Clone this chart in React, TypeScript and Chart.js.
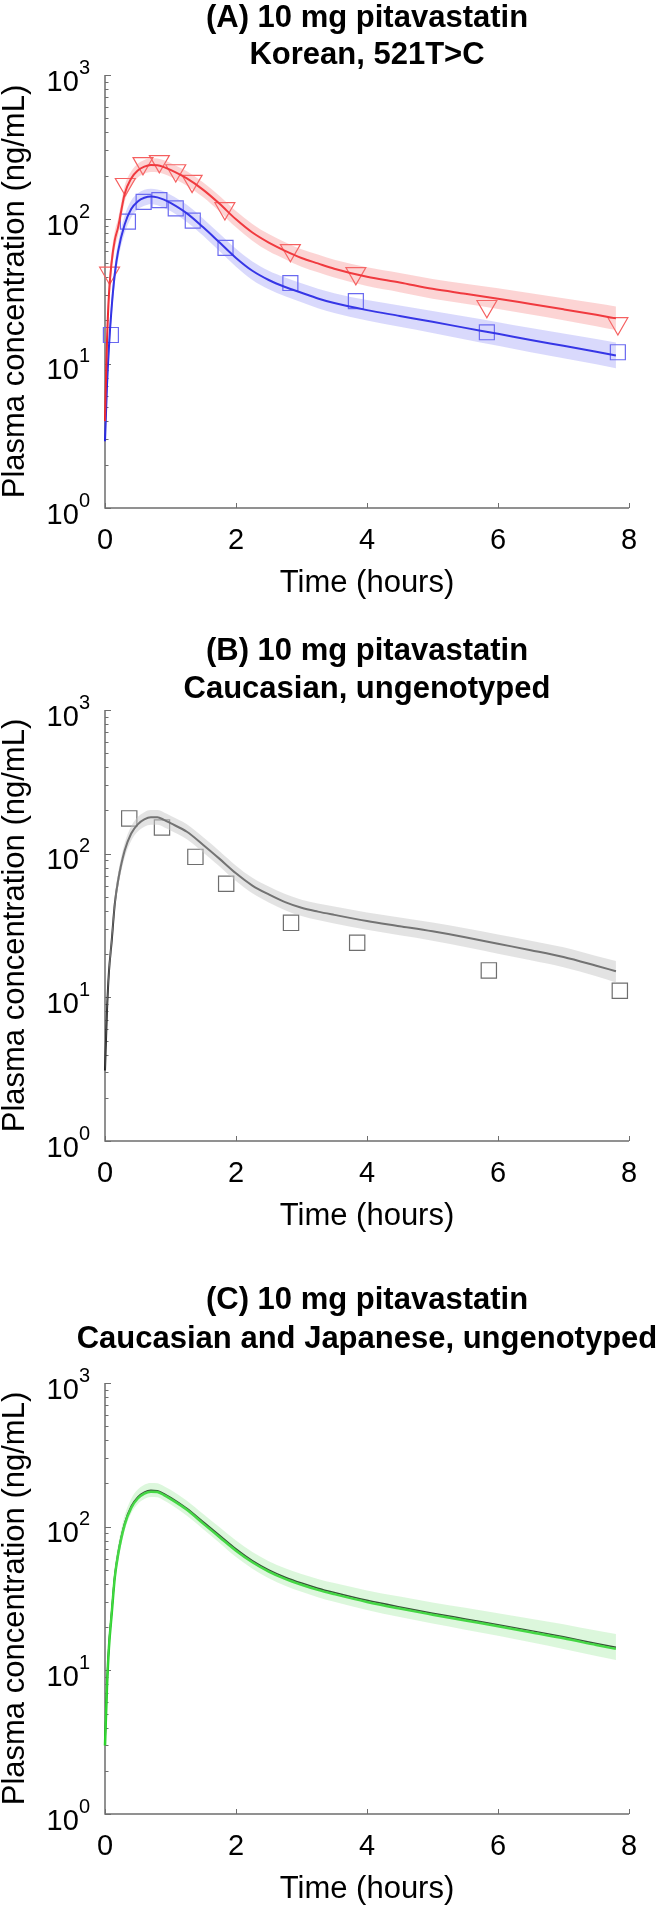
import React, { useEffect, useRef } from 'react';
import { Chart, registerables } from 'chart.js';

Chart.register(...registerables);

const FONT = '"Liberation Sans", Arial, Helvetica, sans-serif';
const W = 661;
const PANEL_H = 637;
const PLOT_LEFT = 105;
const PLOT_RIGHT = 629;
const X_SCALE_H = 94;

// ---------- shared axis definitions ----------
const X_TICKS = [0, 2, 4, 6, 8];
const Y_TICK_EXPONENTS = [0, 1, 2, 3];
const X_TITLE = 'Time (hours)';
const Y_TITLE = 'Plasma concentration (ng/mL)';

// ---------- simulated curve time grid (hours) ----------
const CURVE_TIMES = [0, 0.03, 0.06, 0.1, 0.15, 0.2, 0.3, 0.4, 0.5, 0.6, 0.7, 0.8, 0.9, 1.0, 1.25, 1.5, 1.75, 2.0, 2.25, 2.5, 2.75, 3.0, 3.25, 3.5, 4.0, 4.5, 5.0, 5.5, 6.0, 6.5, 7.0, 7.5, 7.8];

// ---------- Panel A: Korean, 521T>C ----------
const A_TITLE = ['(A) 10 mg pitavastatin', 'Korean, 521T>C'];
const A_RED_MEAN = [4, 14, 30, 50, 72, 88, 150, 192, 218, 232, 238, 237, 230, 220, 192, 160, 128, 100, 81, 69, 60.5, 54, 49.5, 45.5, 40, 36.5, 33, 30.5, 28.2, 25.9, 23.8, 21.8, 20.6];
const A_RED_LOW = [3.4, 12, 26, 43, 62, 77, 132, 170, 195, 207, 213, 212, 206, 197, 171, 142, 113, 88, 71, 60, 53, 47, 43, 39.5, 34.5, 31.3, 28.2, 26, 23.9, 21.9, 20, 18.2, 17.1];
const A_RED_HIGH = [4.6, 16.5, 35, 58, 83, 101, 170, 215, 243, 258, 265, 264, 257, 246, 215, 180, 145, 114, 93, 79, 69.5, 62, 57, 52.5, 46.5, 42.5, 38.6, 35.8, 33.3, 30.8, 28.4, 26.2, 24.9];
const A_BLUE_MEAN = [2.9, 7, 13, 24, 42, 60, 92, 118, 133, 141, 144, 142, 137, 130, 110, 88, 69, 54, 44, 38, 34, 31, 28.3, 26.3, 23.5, 21.4, 19.5, 17.7, 16.1, 14.6, 13.3, 12.1, 11.4];
const A_BLUE_LOW = [2.5, 6, 11.2, 20.5, 36, 52, 80, 103, 117, 124, 127, 125, 120, 114, 96, 77, 60, 47, 38, 32.8, 29.3, 26.6, 24.2, 22.4, 19.9, 18, 16.3, 14.7, 13.3, 12, 10.9, 9.9, 9.3];
const A_BLUE_HIGH = [3.3, 8.2, 15.2, 28, 49, 69, 106, 135, 151, 160, 163, 161, 156, 148, 126, 101, 79.5, 62.5, 51, 44, 39.5, 36, 33, 30.8, 27.6, 25.3, 23.2, 21.2, 19.4, 17.7, 16.2, 14.8, 14.0];
const A_RED_OBS_TIMES = [0.07, 0.31, 0.58, 0.83, 1.08, 1.33, 1.83, 2.83, 3.83, 5.83, 7.83];
const A_RED_OBS = [42.5, 175, 244, 252, 218, 184, 119, 61, 42.2, 25, 19];
const A_BLUE_OBS_TIMES = [0.09, 0.35, 0.59, 0.83, 1.08, 1.34, 1.84, 2.83, 3.83, 5.83, 7.83];
const A_BLUE_OBS = [15.8, 96.5, 132, 136, 119, 98, 63.5, 36.2, 27.1, 16.5, 12.0];

// ---------- Panel B: Caucasian, ungenotyped ----------
const B_TITLE = ['(B) 10 mg pitavastatin', 'Caucasian, ungenotyped'];
const B_MEAN = [3.1, 8, 15, 24, 45, 65, 105, 138, 160, 173, 179, 179, 172, 163, 142, 115, 92, 73, 60, 52, 46, 42, 39.5, 37.5, 34, 31.3, 28.8, 26.2, 23.6, 21.3, 19.1, 16.6, 15.2];
const B_LOW = [2.8, 7.1, 13.4, 21.4, 40, 58, 93.5, 123, 142.5, 154, 159, 159, 153, 145, 126, 102, 81.5, 64.5, 53, 45.8, 40.4, 36.8, 34.5, 32.7, 29.5, 27, 24.8, 22.4, 20.1, 18.1, 16.2, 14, 12.7];
const B_HIGH = [3.4, 9, 16.8, 27, 50.5, 73, 118, 155, 180, 194.5, 201, 201, 193.5, 183.5, 160, 130, 104, 82.5, 68, 59, 52.3, 47.8, 45, 42.9, 39, 36, 33.2, 30.3, 27.4, 24.8, 22.3, 19.4, 17.9];
const B_OBS_TIMES = [0.37, 0.87, 1.38, 1.85, 2.84, 3.85, 5.86, 7.86];
const B_OBS = [176, 152, 95, 61.7, 33, 24, 15.4, 11.1];

// ---------- Panel C: Caucasian and Japanese, ungenotyped ----------
const C_TITLE = ['(C) 10 mg pitavastatin', 'Caucasian and Japanese, ungenotyped'];
const C_BLACK = [3.1, 8, 15, 25, 46, 66, 106, 139, 161, 174, 179, 178, 170, 160, 134, 108, 87, 70, 58, 50, 44.5, 40.5, 37.3, 34.8, 30.7, 27.6, 25, 22.8, 20.8, 18.9, 17.1, 15.4, 14.5];
const C_GREEN = [3.0, 7.6, 14.4, 24, 44.5, 64, 103, 135, 157, 170, 175, 174, 166, 156, 131, 105, 84.5, 68, 56.5, 48.7, 43.3, 39.4, 36.3, 33.9, 29.9, 26.9, 24.4, 22.2, 20.3, 18.4, 16.7, 15, 14.1];
const C_LOW = [2.7, 7, 13.2, 22, 40.5, 58, 94, 124, 144, 156, 161, 160, 152, 143, 119, 96, 77, 61.5, 51, 43.8, 38.8, 35.2, 32.3, 30, 26.3, 23.5, 21.2, 19.2, 17.4, 15.7, 14.1, 12.6, 11.8];
const C_HIGH = [3.5, 9.1, 17, 28.3, 52, 74.5, 119.5, 156.5, 181.5, 196, 201.5, 200.5, 191.5, 180.5, 151.5, 122.5, 99, 80, 66.5, 57.5, 51.3, 46.8, 43.3, 40.5, 36, 32.6, 29.7, 27.3, 25, 22.9, 20.9, 18.9, 17.9];

// ---------- helpers ----------
const pts = (xs: number[], ys: number[]) => xs.map((x, i) => ({ x, y: ys[i] }));

const bandSets = (low: number[], high: number[], color: string) => [
  {
    data: pts(CURVE_TIMES, low),
    borderWidth: 0,
    borderColor: 'rgba(0,0,0,0)',
    pointRadius: 0,
    fill: false,
    cubicInterpolationMode: 'monotone',
    clip: false,
  },
  {
    data: pts(CURVE_TIMES, high),
    borderWidth: 0,
    borderColor: 'rgba(0,0,0,0)',
    backgroundColor: color,
    pointRadius: 0,
    fill: '-1',
    cubicInterpolationMode: 'monotone',
    clip: false,
  },
];

const lineSet = (ys: number[], color: string, width: number) => ({
  data: pts(CURVE_TIMES, ys),
  borderColor: color,
  borderWidth: width,
  pointRadius: 0,
  fill: false,
  cubicInterpolationMode: 'monotone',
  clip: false,
});

const markerSet = (xs: number[], ys: number[], style: string, color: string, radius: number, rotation: number) => ({
  data: pts(xs, ys),
  showLine: false,
  pointStyle: style,
  pointRadius: radius,
  pointRotation: rotation,
  pointBorderColor: color,
  pointBackgroundColor: 'rgba(0,0,0,0)',
  pointBorderWidth: 1.2,
  borderColor: color,
  fill: false,
  clip: false,
});

const PANELS = [
  {
    title: A_TITLE,
    titleY: [18, 55],
    plotTop: 75,
    plotBottom: 508,
    datasets: [
      ...bandSets(A_RED_LOW, A_RED_HIGH, 'rgba(245,120,120,0.32)'),
      ...bandSets(A_BLUE_LOW, A_BLUE_HIGH, 'rgba(120,120,245,0.28)'),
      lineSet(A_RED_MEAN, 'rgb(238,28,36)', 2),
      lineSet(A_BLUE_MEAN, 'rgb(30,30,225)', 2),
      markerSet(A_RED_OBS_TIMES, A_RED_OBS, 'triangle', 'rgb(245,95,95)', 11.5, 180),
      markerSet(A_BLUE_OBS_TIMES, A_BLUE_OBS, 'rect', 'rgb(105,105,240)', 10.6, 0),
    ],
  },
  {
    title: B_TITLE,
    titleY: [14, 52],
    plotTop: 73,
    plotBottom: 504,
    datasets: [
      ...bandSets(B_LOW, B_HIGH, 'rgba(200,200,200,0.5)'),
      lineSet(B_MEAN, 'rgb(30,30,30)', 2),
      markerSet(B_OBS_TIMES, B_OBS, 'rect', 'rgb(110,110,110)', 10.8, 0),
    ],
  },
  {
    title: C_TITLE,
    titleY: [26, 65],
    plotTop: 109,
    plotBottom: 540,
    datasets: [
      ...bandSets(C_LOW, C_HIGH, 'rgba(140,230,140,0.3)'),
      lineSet(C_GREEN, 'rgb(40,210,40)', 2.5),
      lineSet(C_BLACK, 'rgb(20,20,20)', 1.5),
    ],
  },
];

const AXIS_COLOR = 'rgb(110,110,110)';

const matlabAxes = {
  id: 'matlabAxes',
  beforeDatasetsDraw(chart: any) {
    const { ctx, chartArea, scales } = chart;
    const { left, right, top, bottom } = chartArea;
    const x = scales.x;
    const y = scales.y;
    ctx.save();
    ctx.strokeStyle = AXIS_COLOR;
    ctx.lineWidth = 1.5;
    ctx.beginPath();
    ctx.moveTo(left, top);
    ctx.lineTo(left, bottom);
    ctx.lineTo(right, bottom);
    ctx.stroke();
    ctx.lineWidth = 1;
    ctx.beginPath();
    for (const v of X_TICKS) {
      const px = Math.round(x.getPixelForValue(v)) + 0.5;
      ctx.moveTo(px, bottom);
      ctx.lineTo(px, bottom - 5);
    }
    for (let e = Y_TICK_EXPONENTS[0]; e <= Y_TICK_EXPONENTS[Y_TICK_EXPONENTS.length - 1]; e++) {
      for (let m = 1; m <= 9; m++) {
        const v = m * Math.pow(10, e);
        if (v > 1000 || v < 1) continue;
        const py = Math.round(y.getPixelForValue(v)) + 0.5;
        ctx.moveTo(left, py);
        ctx.lineTo(left + (m === 1 ? 6 : 3.5), py);
        if (e === 3) break;
      }
    }
    ctx.stroke();
    ctx.restore();
  },
  afterDraw(chart: any, _args: any, opts: any) {
    const { ctx, chartArea, scales } = chart;
    const { left, right } = chartArea;
    const y = scales.y;
    ctx.save();
    ctx.fillStyle = '#000';
    ctx.textAlign = 'left';
    ctx.textBaseline = 'alphabetic';
    for (const e of Y_TICK_EXPONENTS) {
      const py = y.getPixelForValue(Math.pow(10, e));
      ctx.font = `29px ${FONT}`;
      const wBase = ctx.measureText('10').width;
      ctx.font = `20px ${FONT}`;
      const wSup = ctx.measureText(String(e)).width;
      const xStart = left - 15 - wSup - wBase;
      ctx.font = `29px ${FONT}`;
      ctx.fillText('10', xStart, py + 15.5);
      ctx.font = `20px ${FONT}`;
      ctx.fillText(String(e), xStart + wBase, py - 1.5);
    }
    ctx.font = `bold 31px ${FONT}`;
    ctx.textAlign = 'center';
    ctx.textBaseline = 'middle';
    const cx = (left + right) / 2;
    (opts.lines || []).forEach((t: string, i: number) => ctx.fillText(t, cx, opts.ys[i]));
    ctx.restore();
  },
};

function buildConfig(p: any): any {
  return {
    type: 'line',
    data: { datasets: p.datasets },
    plugins: [matlabAxes],
    options: {
      responsive: false,
      animation: false,
      devicePixelRatio: 1,
      events: [],
      layout: {
        padding: {
          top: p.plotTop,
          bottom: PANEL_H - p.plotBottom - X_SCALE_H,
          left: 0,
          right: W - PLOT_RIGHT,
        },
      },
      plugins: {
        legend: { display: false },
        tooltip: { enabled: false },
        title: { display: false },
        matlabAxes: { lines: p.title, ys: p.titleY },
      },
      scales: {
        x: {
          type: 'linear',
          min: 0,
          max: 8,
          afterBuildTicks: (s: any) => {
            s.ticks = X_TICKS.map((v) => ({ value: v }));
          },
          grid: { display: false, drawTicks: false },
          border: { display: false },
          ticks: {
            font: { size: 29, family: FONT, lineHeight: 1.2 },
            color: '#000',
            padding: 15.6,
            maxRotation: 0,
            autoSkip: false,
          },
          title: {
            display: true,
            text: X_TITLE,
            font: { size: 31, family: FONT, lineHeight: 1.2 },
            color: '#000',
            padding: 0,
          },
          afterFit: (s: any) => {
            s.height = X_SCALE_H;
          },
        },
        y: {
          type: 'logarithmic',
          min: 1,
          max: 1000,
          grid: { display: false, drawTicks: false },
          border: { display: false },
          ticks: { display: false },
          title: {
            display: true,
            text: Y_TITLE,
            font: { size: 31, family: FONT, lineHeight: 1 },
            color: '#000',
            padding: 0,
          },
          afterFit: (s: any) => {
            s.width = PLOT_LEFT;
          },
        },
      },
    },
  };
}

export default function App() {
  const r0 = useRef<HTMLCanvasElement>(null);
  const r1 = useRef<HTMLCanvasElement>(null);
  const r2 = useRef<HTMLCanvasElement>(null);
  const refs = [r0, r1, r2];

  useEffect(() => {
    const charts = PANELS.map((p, i) => new Chart(refs[i].current as HTMLCanvasElement, buildConfig(p)));
    return () => charts.forEach((c) => c.destroy());
  }, []);

  return (
    <div style={{ position: 'absolute', left: 0, top: 0, width: W, height: PANEL_H * 3, background: '#fff' }}>
      {PANELS.map((_, i) => (
        <canvas
          key={i}
          ref={refs[i]}
          width={W}
          height={PANEL_H}
          style={{ position: 'absolute', left: 0, top: i * PANEL_H, display: 'block' }}
        />
      ))}
    </div>
  );
}
